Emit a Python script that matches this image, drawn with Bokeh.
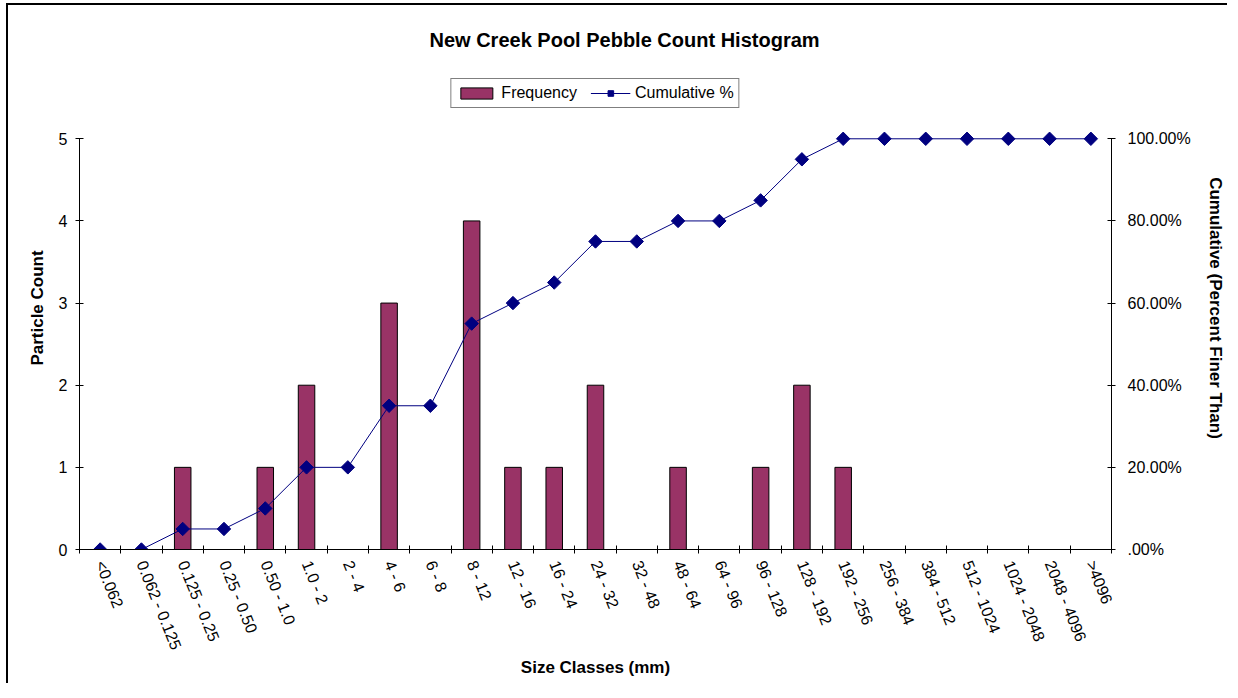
from bokeh.plotting import figure
from bokeh.models import (Range1d, LinearAxis, FixedTicker, Legend, LegendItem,
                          ColumnDataSource)
from bokeh.embed import file_html
from bokeh.resources import INLINE
import math

categories = ["<0.062", "0.062 - 0.125", "0.125 - 0.25", "0.25 - 0.50", "0.50 - 1.0",
              "1.0 - 2", "2 - 4", "4 - 6", "6 - 8", "8 - 12", "12 - 16", "16 - 24",
              "24 - 32", "32 - 48", "48 - 64", "64 - 96", "96 - 128", "128 - 192",
              "192 - 256", "256 - 384", "384 - 512", "512 - 1024", "1024 - 2048",
              "2048 - 4096", ">4096"]
frequency = [0, 0, 1, 0, 1, 2, 0, 3, 0, 4, 1, 1, 2, 0, 1, 0, 1, 2, 1, 0, 0, 0, 0, 0, 0]
cumulative_pct = [0, 0, 5, 5, 10, 20, 20, 35, 35, 55, 60, 65, 75, 75, 80, 80, 85, 95,
                  100, 100, 100, 100, 100, 100, 100]
count_ticks = [0, 1, 2, 3, 4, 5]
pct_ticks = [0, 20, 40, 60, 80, 100]
pct_labels = [".00%", "20.00%", "40.00%", "60.00%", "80.00%", "100.00%"]

n = len(categories)
x_centers = [i + 0.5 for i in range(n)]
line_src = ColumnDataSource(dict(x=x_centers, cum=cumulative_pct))
bar_src = ColumnDataSource(dict(x=[x for x, f in zip(x_centers, frequency) if f > 0],
                                freq=[f for f in frequency if f > 0]))

FONT = "Liberation Sans"
BAR = "#993366"
NAVY = "#000080"

p = figure(frame_width=1032, frame_height=483,
           x_range=Range1d(0, n), y_range=Range1d(0, 5.88),
           output_backend="svg", toolbar_location=None,
           min_border_left=71, min_border_top=61, min_border_right=116,
           min_border_bottom=134, x_axis_location=None, y_axis_location=None)
p.extra_y_ranges = {"pct": Range1d(0, 117.6)}
p.grid.visible = False
p.outline_line_color = None
p.background_fill_color = "white"
p.border_fill_color = "white"
p.styles = {"border-left": "2px solid black", "border-top": "2px solid black",
            "margin-left": "6px", "margin-top": "3px"}

# x axis: labels at category centres, ticks between categories
xaxis = LinearAxis(ticker=FixedTicker(ticks=x_centers, minor_ticks=list(range(n + 1))),
                   major_label_overrides={x: c for x, c in zip(x_centers, categories)})
xaxis.major_tick_in = 0
xaxis.major_tick_out = 0
xaxis.minor_tick_in = 4
xaxis.minor_tick_out = 4
xaxis.minor_tick_line_color = "black"
xaxis.major_label_orientation = -math.radians(68)
xaxis.major_label_standoff = 8
xaxis.axis_label = "Size Classes (mm)"
xaxis.axis_label_standoff = 0
p.add_layout(xaxis, "below")

yaxis = LinearAxis(ticker=FixedTicker(ticks=count_ticks), bounds=(0, 5))
yaxis.axis_label = "Particle Count"
yaxis.major_label_standoff = 8
yaxis.axis_label_standoff = 9
p.add_layout(yaxis, "left")

raxis = LinearAxis(y_range_name="pct", ticker=FixedTicker(ticks=pct_ticks), bounds=(0, 100),
                   major_label_overrides={t: l for t, l in zip(pct_ticks, pct_labels)})
raxis.axis_label = "Cumulative (Percent Finer Than)"
raxis.major_label_standoff = 12
raxis.axis_label_standoff = 12
p.add_layout(raxis, "right")

for ax in (xaxis, yaxis, raxis):
    ax.axis_line_color = "black"
    ax.axis_line_width = 1
    ax.major_tick_line_color = "black"
    ax.major_label_text_font = FONT
    ax.major_label_text_font_size = "16px"
    ax.major_label_text_color = "black"
    ax.axis_label_text_font = FONT
    ax.axis_label_text_font_size = "17px"
    ax.axis_label_text_font_style = "bold"
    ax.axis_label_text_color = "black"
for ax in (yaxis, raxis):
    ax.major_tick_in = 4
    ax.major_tick_out = 4
    ax.minor_tick_line_color = None

bars = p.vbar(x="x", top="freq", width=0.4, source=bar_src, fill_color=BAR,
              line_color="black", line_width=1)
line = p.line(x="x", y="cum", source=line_src, y_range_name="pct", line_color=NAVY, line_width=1)
pts = p.scatter(x="x", y="cum", source=line_src, y_range_name="pct", marker="square", size=9.5,
                angle=math.pi / 4, fill_color=NAVY, line_color=NAVY)

legend = Legend(items=[LegendItem(label="Frequency", renderers=[bars]),
                       LegendItem(label="Cumulative %", renderers=[line, pts])],
                orientation="horizontal", location="top_center")
legend.label_text_font = FONT
legend.label_text_font_size = "16px"
legend.label_text_color = "black"
legend.border_line_color = "black"
legend.border_line_width = 1
legend.background_fill_alpha = 1
legend.glyph_width = 40
legend.glyph_height = 14
legend.padding = 5
legend.spacing = 13
legend.label_standoff = 5
legend.margin = 12
p.add_layout(legend, "center")

p.title.text = "New Creek Pool Pebble Count Histogram"
p.title.align = "left"
p.title.offset = 350
p.title.standoff = 32
p.title.text_font = FONT
p.title.text_font_size = "20px"
p.title.text_font_style = "bold"
p.title.text_color = "black"

open("out.html", "w").write(file_html(p, INLINE))
